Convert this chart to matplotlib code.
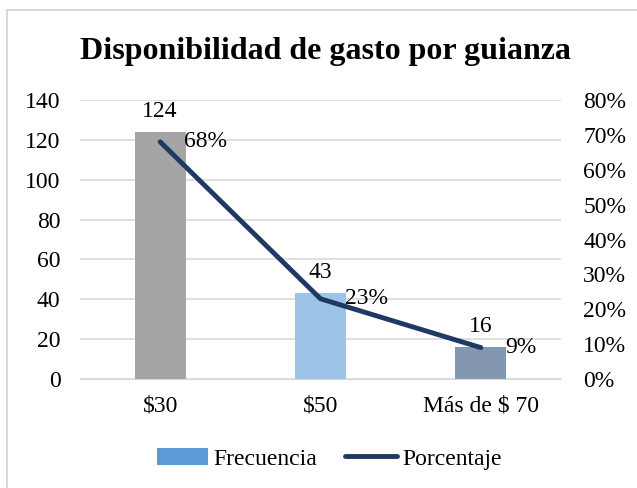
import matplotlib
matplotlib.use("Agg")
import matplotlib.pyplot as plt
from matplotlib.patches import Rectangle, Patch
from matplotlib.lines import Line2D
import numpy as np

categories = ["$30", "$50", "Más de $ 70"]
frecuencia = [124, 43, 16]
porcentaje = [0.68, 0.23, 0.09]
porcentaje_labels = ["68%", "23%", "9%"]
bar_colors = ["#A5A5A5", "#9DC3E6", "#8497B0"]
line_color = "#203864"

plt.rcParams["font.family"] = ["Liberation Serif", "DejaVu Serif"]
plt.rcParams["font.size"] = 17

fig = plt.figure(figsize=(6.37, 4.88), dpi=100)
# outer chart border (only left/top visible in reference)
fig.patches.append(Rectangle((7 / 637, -0.2), 1.2, 1.2 - 10 / 488,
                             transform=fig.transFigure, fill=False,
                             edgecolor="#D9D9D9", linewidth=1.5))

ax = fig.add_axes([80 / 637, 1 - 379 / 488, 481 / 637, 279 / 488])
x = np.arange(len(categories))
ax.bar(x, frecuencia, width=0.32, color=bar_colors, zorder=2)
ax.set_xlim(-0.5, 2.5)
ax.set_ylim(0, 140)
ax.set_yticks(range(0, 141, 20))
ax.set_xticks(x)
ax.set_xticklabels(categories)
ax.grid(axis="y", color="#D9D9D9", linewidth=1.2, zorder=0)
for s in ax.spines.values():
    s.set_visible(False)
ax.spines["bottom"].set_visible(True)
ax.spines["bottom"].set_color("#D9D9D9")
ax.tick_params(length=0, pad=14)
ax.tick_params(axis="x", pad=12)
for i, v in enumerate(frecuencia):
    ax.text(i, v + 5, str(v), ha="center", va="bottom")

ax2 = ax.twinx()
ax2.plot(x, porcentaje, color=line_color, linewidth=3.5,
         solid_capstyle="round", zorder=3)
ax2.set_ylim(0, 0.8)
ax2.set_yticks(np.arange(0, 0.81, 0.1))
ax2.set_yticklabels([f"{int(round(t * 100))}%" for t in np.arange(0, 0.81, 0.1)])
for s in ax2.spines.values():
    s.set_visible(False)
ax2.tick_params(length=0, pad=16)
for i, (v, lab) in enumerate(zip(porcentaje, porcentaje_labels)):
    ax2.text(i + 0.15, v, lab, ha="left", va="center")

fig.text(325 / 637, 1 - 52 / 488, "Disponibilidad de gasto por guianza",
         ha="center", va="center", fontsize=23, fontweight="bold")

handles = [Patch(facecolor="#5B9BD5", edgecolor="none"),
           Line2D([0], [0], color=line_color, linewidth=3.5, solid_capstyle="round")]
fig.legend(handles, ["Frecuencia", "Porcentaje"], loc="center",
           bbox_to_anchor=(329 / 637, 1 - 459 / 488), ncol=2, frameon=False,
           handlelength=2.2, handletextpad=0.2, columnspacing=1.2,
           handleheight=0.7)

fig.savefig("out.png", dpi=100)
